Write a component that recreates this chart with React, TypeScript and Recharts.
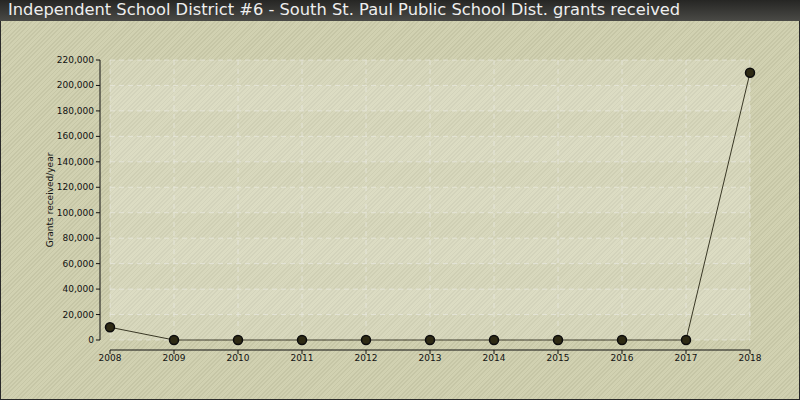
import { LineChart, Line, XAxis, YAxis, CartesianGrid, ReferenceArea } from "recharts";

const years = [2008, 2009, 2010, 2011, 2012, 2013, 2014, 2015, 2016, 2017, 2018];
const grants = [10000, 0, 0, 0, 0, 0, 0, 0, 0, 0, 210000];
const yTicks = [0, 20000, 40000, 60000, 80000, 100000, 120000, 140000, 160000, 180000, 200000, 220000];

const data = years.map((year, i) => ({ year, grants: grants[i] }));
const bands = yTicks.slice(0, -1).map((lo, i) => ({ lo, hi: yTicks[i + 1], light: i % 2 === 1 }));

const FONT = "'DejaVu Sans', Verdana, sans-serif";
const fmt = (v: number) => v.toLocaleString("en-US");

function YTick(props: any) {
  const { x, y, payload } = props;
  return (
    <text x={x - 10} y={y} dy={3} textAnchor="end" fontSize={9} fontFamily={FONT} fill="#111">
      {fmt(payload.value)}
    </text>
  );
}

function XTick(props: any) {
  const { x, y, payload } = props;
  return (
    <text x={x} y={y + 12} dy={3} textAnchor="middle" fontSize={9} fontFamily={FONT} fill="#111">
      {payload.value}
    </text>
  );
}

export default function App() {
  return (
    <div
      style={{
        position: "relative",
        width: 800,
        height: 400,
        boxSizing: "border-box",
        border: "1px solid #2a2a2a",
        background: "repeating-linear-gradient(135deg, #c6c6a6 0px, #c6c6a6 1.2px, #d1d1b1 1.2px, #d1d1b1 3px)",
        fontFamily: FONT,
      }}
    >
      <style>{`body{margin:0}`}</style>
      <div
        style={{
          position: "absolute",
          left: -1,
          top: -1,
          width: 800,
          height: 21,
          background: "linear-gradient(#262624, #4a4a46)",
          color: "#eeeeee",
          fontSize: 16.3,
          lineHeight: "20px",
          paddingLeft: 8,
          boxSizing: "border-box",
          whiteSpace: "nowrap",
        }}
      >
        Independent School District #6 - South St. Paul Public School Dist. grants received
      </div>
      <div style={{ position: "absolute", left: -1, top: -1 }}>
        <LineChart width={800} height={400} data={data} margin={{ top: 60, right: 50, bottom: 30, left: 50 }}>
          {bands.map((b) => (
            <ReferenceArea
              key={b.lo}
              x1={2008}
              x2={2018}
              y1={b.lo}
              y2={b.hi}
              fill="#ffffff"
              fillOpacity={b.light ? 0.24 : 0.16}
              stroke="none"
              ifOverflow="visible"
            />
          ))}
          <CartesianGrid stroke="#e2e2d6" strokeOpacity={0.8} strokeDasharray="5 4" strokeWidth={1} />
          <XAxis
            dataKey="year"
            type="number"
            domain={[2008, 2018]}
            ticks={years}
            height={30}
            tick={<XTick />}
            tickSize={4}
            axisLine={{ stroke: "#111", transform: "translate(0,10)" }}
            tickLine={{ stroke: "#111", transform: "translate(0,10)" }}
          />
          <YAxis
            domain={[0, 220000]}
            ticks={yTicks}
            width={60}
            tick={<YTick />}
            tickSize={4}
            axisLine={{ stroke: "#111", transform: "translate(-10,0)" }}
            tickLine={{ stroke: "#111", transform: "translate(-10,0)" }}
            label={{
              content: () => (
                <text
                  x={53}
                  y={200}
                  transform="rotate(-90 53 200)"
                  textAnchor="middle"
                  fontSize={9}
                  fontFamily={FONT}
                  fill="#111"
                >
                  Grants received/year
                </text>
              ),
            }}
          />
          <Line
            dataKey="grants"
            stroke="#3a3826"
            strokeWidth={1}
            isAnimationActive={false}
            dot={{ r: 4.5, fill: "#2e2a14", stroke: "#0d0d0d", strokeWidth: 1.5 }}
          />
        </LineChart>
      </div>
    </div>
  );
}
